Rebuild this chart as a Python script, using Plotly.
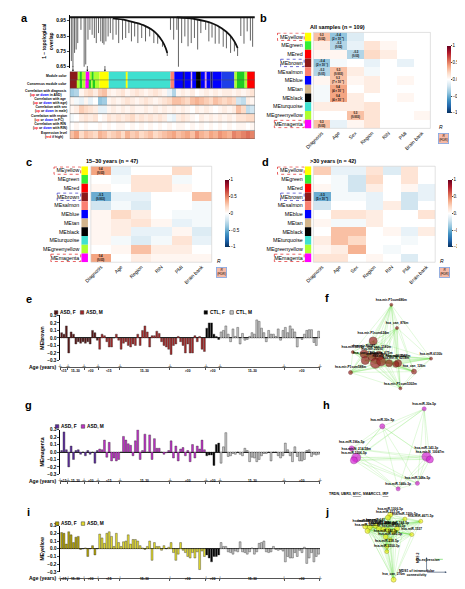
import numpy as np
import plotly.graph_objects as go

W, H = 465, 589
FONT = "Arial, Liberation Sans, sans-serif"


def px(x):
    return x / W


def py(y):
    return 1 - y / H


RDBU = [[0.0, "#053061"], [0.1, "#2166ac"], [0.2, "#4393c3"], [0.3, "#92c5de"],
        [0.4, "#d1e5f0"], [0.5, "#ffffff"], [0.6, "#fddbc7"], [0.7, "#f4a582"],
        [0.8, "#d6604d"], [0.9, "#b2182b"], [1.0, "#67001f"]]

# ---------------- a: gene dendrogram (x = gene order, y = 1 - TOM) ----------------
drop_x = [5, 10, 15, 20, 25, 35, 45, 50, 57, 63, 70, 77, 83, 90, 97, 103, 107, 113, 120, 127,
          135, 145, 153, 165, 175, 185, 193, 203, 213, 225, 237, 250, 263, 275, 290, 305,
          315, 325, 335, 340, 350, 360, 370, 380, 390, 400, 410, 425, 435, 445, 455, 467,
          480, 490, 503, 515, 525, 535, 545, 555, 565, 572]
drop_h = [0.687, 0.650, 0.740, 0.762, 0.804, 0.890, 0.650, 0.665, 0.826, 0.890, 0.858, 0.837,
          0.804, 0.869, 0.815, 0.804, 0.794, 0.815, 0.847, 0.869, 0.826, 0.858, 0.804, 0.826,
          0.837, 0.869, 0.815, 0.847, 0.804, 0.837, 0.815, 0.847, 0.804, 0.800, 0.780, 0.720,
          0.890, 0.826, 0.890, 0.650, 0.804, 0.847, 0.783, 0.804, 0.837, 0.762, 0.869, 0.890,
          0.815, 0.840, 0.800, 0.800, 0.780, 0.770, 0.740, 0.750, 0.720, 0.850, 0.800, 0.880,
          0.820, 0.780]
arc1_x = [135, 175, 205, 235, 255, 275, 290, 300, 305]
arc1_h = [0.965, 0.954, 0.937, 0.916, 0.894, 0.858, 0.815, 0.772, 0.740]
arc2_x = [335, 395, 445, 475, 500, 515, 525]
arc2_h = [0.971, 0.959, 0.933, 0.901, 0.858, 0.815, 0.772]
top_h = 0.972
n_genes = 579

mod_colors = ["#8b1a1a", "#adff2f", "#22cc22", "#adff2f", "#ff00ff", "#adff2f", "#22cc22",
              "#adff2f", "#ffff00", "#40e0d0", "#ffff00", "#40e0d0", "#fa8072", "#0000ff",
              "#191970", "#0000ff", "#dda0dd", "#0000ff", "#000000", "#0000ff", "#dda0dd",
              "#0000ff", "#191970", "#0000ff", "#1f3fe8", "#adff2f", "#22cc22", "#adff2f", "#ff0000"]
mod_widths = [25, 8, 5, 12, 12, 9, 4, 18, 29, 56, 3, 134, 12, 28, 5, 20, 3, 12, 15, 15, 3, 12, 7,
              28, 40, 8, 24, 8, 24]
cons_colors = ["#8b1a1a", "#adff2f", "#22cc22", "#adff2f", "#ff00ff", "#22cc22", "#adff2f",
               "#22cc22", "#adff2f", "#ffff00", "#40e0d0", "#ffff00", "#40e0d0", "#fa8072",
               "#0000ff", "#191970", "#0000ff", "#dda0dd", "#0000ff", "#000000", "#0000ff",
               "#dda0dd", "#0000ff", "#191970", "#0000ff", "#1f3fe8", "#adff2f", "#22cc22",
               "#adff2f", "#ff0000"]
cons_widths = [25, 6, 8, 10, 12, 6, 7, 5, 14, 29, 56, 3, 134, 12, 28, 5, 20, 3, 12, 15, 15, 3,
               12, 7, 28, 40, 8, 24, 8, 24]

cor_diag = [-0.35, -0.3, 0.05, 0.15, 0.2, 0.1, 0.25, 0.3, 0.1, 0.05, 0.1, 0.15, 0.05, 0.1, 0.15,
            0.1, 0.05, 0.1, 0.15, 0.1, 0.05, -0.1, -0.3, 0.05, 0.1, 0.05, 0.1, 0.0, 0.05, 0.1,
            0.05, 0.1, 0.05, 0.1, 0.1, 0.05, 0.1, 0.05, 0.1, 0.15]
cor_age = [0.05, -0.05, -0.1, 0.05, -0.1, 0.0, -0.4, -0.35, 0.05, 0.1, 0.05, 0.1, 0.15, 0.1,
           0.05, 0.1, 0.15, 0.1, 0.05, 0.1, 0.15, 0.2, 0.3, 0.3, 0.25, 0.2, 0.3, 0.35, 0.3, 0.25,
           0.2, 0.3, 0.25, 0.2, 0.25, 0.2, -0.2, -0.25, 0.1, 0.05]
cor_sex = [0.05, 0.1, 0.25, 0.2, 0.15, 0.1, -0.1, -0.1, 0.05, 0.1, 0.05, 0.1, 0.05, 0.1, 0.05,
           0.05, 0.1, 0.05, 0.1, 0.05, 0.1, 0.05, 0.1, 0.05, 0.1, 0.05, 0.0, 0.1, 0.05, 0.1,
           0.05, 0.0, 0.05, 0.1, 0.05, 0.1, 0.3, 0.2, -0.25, -0.2]
cor_region = [-0.05, 0.0, 0.1, 0.15, 0.1, 0.15, 0.0, 0.05, 0.15, 0.1, 0.15, 0.1, 0.15, 0.2, 0.1,
              0.15, 0.1, 0.15, 0.1, 0.15, 0.1, -0.05, -0.1, 0.1, 0.15, 0.1, 0.05, 0.0, 0.1, 0.05,
              0.1, 0.05, 0.1, 0.05, 0.1, 0.05, 0.15, 0.15, 0.2, 0.2]
cor_rin = [0.0, 0.05, 0.0, 0.05, 0.0, 0.0, 0.05, 0.0, 0.05, 0.0, 0.05, 0.05, 0.0, 0.05, 0.0,
           0.05, 0.0, 0.05, 0.0, 0.05, 0.0, 0.05, 0.0, 0.05, 0.05, 0.0, 0.05, 0.0, 0.05, 0.0,
           0.05, 0.0, 0.05, 0.0, 0.05, 0.0, 0.05, 0.05, 0.0, 0.05]
expr_level = [0.3, 0.4, 0.2, 0.3, 0.25, 0.2, 0.35, 0.3, 0.2, 0.25, 0.3, 0.2, 0.35, 0.25, 0.3,
              0.2, 0.25, 0.3, 0.2, 0.25, 0.3, 0.35, 0.4, 0.3, 0.35, 0.4, 0.3, 0.45, 0.35, 0.3,
              0.4, 0.35, 0.45, 0.4, 0.35, 0.5, 0.45, 0.5, 0.55, 0.5]

a_labels = [
    "<b>Module color</b>",
    "<b>Consensus module color</b>",
    "<b>Correlation with diagnosis<br>(<span style='color:red'>up</span> or <span style='color:blue'>down</span> in ASD)</b>",
    "<b>Correlation with age<br>(<span style='color:red'>up</span> or <span style='color:blue'>down</span> with age)</b>",
    "<b>Correlation with sex<br>(<span style='color:red'>up</span> or <span style='color:blue'>down</span> in male)</b>",
    "<b>Correlation with region<br>(<span style='color:red'>up</span> or <span style='color:blue'>down</span> in FC)</b>",
    "<b>Correlation with RIN<br>(<span style='color:red'>up</span> or <span style='color:blue'>down</span> with RIN)</b>",
    "<b>Expression level<br>(<span style='color:red'>red</span> if high)</b>",
]
arrow_genes = [10, 55, 110]

# ---------------- b, c, d: module eigengene - trait correlations ----------------
modules = ["MEyellow", "MEgreen", "MEred", "MEbrown", "MEsalmon", "MEblue", "MEtan", "MEblack",
           "MEturquoise", "MEgreenyellow", "MEmagenta"]
module_fill = ["#ffff00", "#33ee33", "#ff0000", "#8b1a1a", "#fa8072", "#0000ff", "#d2b48c",
               "#000000", "#40e0d0", "#adff2f", "#ff00ff"]
boxed = {"MEyellow": "#e02020", "MEbrown": "#3030c0", "MEmagenta": "#e02020"}

traits_b = ["Diagnosis", "Age", "Sex", "Region", "RIN", "PMI", "Brain bank"]
r_b = [[0.3, -0.4, -0.15, 0.0, 0.0, 0.0, 0.0],
       [0.1, -0.3, -0.1, 0.15, 0.05, 0.0, 0.0],
       [0.05, 0.05, -0.3, 0.2, 0.1, 0.0, 0.0],
       [-0.4, -0.05, 0.0, -0.1, 0.0, -0.1, 0.0],
       [-0.3, 0.3, 0.1, -0.05, 0.0, 0.0, 0.0],
       [0.05, 0.3, 0.05, 0.1, 0.0, 0.05, 0.0],
       [-0.05, 0.4, 0.0, 0.1, 0.0, 0.0, 0.0],
       [-0.05, 0.4, 0.1, 0.0, 0.0, 0.05, 0.0],
       [0.1, 0.1, 0.1, 0.15, 0.0, 0.0, 0.0],
       [0.0, 0.0, 0.3, 0.15, 0.0, 0.0, 0.05],
       [0.3, -0.1, 0.05, 0.15, 0.0, 0.0, 0.0]]
sig_b = [("MEyellow", "Diagnosis", "0.3<br>(0.02)"),
         ("MEyellow", "Age", "\u22120.4<br>(2 \u00d7 10<sup>\u22125</sup>)"),
         ("MEgreen", "Age", "\u22120.3<br>(0.02)"),
         ("MEred", "Sex", "\u22120.3<br>(0.03)"),
         ("MEbrown", "Diagnosis", "\u22120.4<br>(2 \u00d7 10<sup>\u22124</sup>)"),
         ("MEsalmon", "Diagnosis", "\u22120.3<br>(0.01)"),
         ("MEsalmon", "Age", "0.3<br>(0.003)"),
         ("MEblue", "Age", "0.3<br>(7 \u00d7 10<sup>\u22123</sup>)"),
         ("MEtan", "Age", "0.4<br>(4 \u00d7 10<sup>\u22124</sup>)"),
         ("MEblack", "Age", "0.4<br>(4 \u00d7 10<sup>\u22124</sup>)"),
         ("MEgreenyellow", "Sex", "0.3<br>(0.003)"),
         ("MEmagenta", "Diagnosis", "0.3<br>(0.03)")]

traits_c = ["Diagnosis", "Age", "Region", "RIN", "PMI", "Brain bank"]
r_c = [[0.4, -0.1, 0.0, 0.0, 0.2, 0.0],
       [0.0, -0.05, 0.15, 0.15, -0.05, 0.0],
       [0.05, 0.0, 0.15, 0.15, 0.05, 0.0],
       [-0.5, -0.1, -0.1, 0.0, 0.0, 0.3],
       [-0.2, -0.05, -0.15, 0.0, 0.0, -0.05],
       [0.05, 0.2, 0.1, 0.0, -0.05, -0.05],
       [0.05, 0.1, 0.15, 0.05, -0.1, -0.05],
       [0.05, 0.1, -0.1, -0.1, 0.05, -0.15],
       [0.05, -0.05, -0.15, -0.05, 0.15, -0.1],
       [0.0, 0.05, 0.3, 0.1, 0.1, 0.0],
       [0.4, 0.0, 0.1, 0.05, 0.05, 0.05]]
sig_c = [("MEyellow", "Diagnosis", "0.4<br>(0.03)"),
         ("MEbrown", "Diagnosis", "\u22120.5<br>(0.003)"),
         ("MEmagenta", "Diagnosis", "0.4<br>(0.03)")]

traits_d = ["Diagnosis", "Age", "Sex", "Region", "RIN", "PMI", "Brain bank"]
r_d = [[0.25, -0.1, -0.1, 0.15, -0.15, 0.15, 0.0],
       [0.0, -0.05, -0.2, 0.2, 0.0, 0.15, 0.0],
       [0.05, -0.05, -0.2, 0.1, 0.0, 0.05, -0.1],
       [-0.5, -0.05, -0.05, -0.1, 0.0, -0.2, -0.1],
       [-0.2, 0.0, 0.0, -0.1, 0.1, -0.2, 0.0],
       [0.0, 0.15, 0.15, 0.1, 0.0, 0.0, 0.15],
       [0.05, -0.05, -0.05, 0.1, 0.0, 0.0, 0.0],
       [0.0, 0.3, 0.3, 0.0, 0.05, -0.1, 0.1],
       [0.1, 0.3, 0.2, 0.0, 0.0, -0.05, 0.0],
       [0.05, 0.1, 0.35, 0.0, -0.05, 0.0, 0.0],
       [0.15, 0.15, 0.0, 0.05, 0.0, -0.15, 0.0]]
sig_d = [("MEbrown", "Diagnosis", "\u22120.5<br>(5 \u00d7 10<sup>\u22123</sup>)")]

# ---------------- e, g, i: eigengene values per sample ----------------
age_groups = ["<15", "15\u201330", ">30", "<15", "15\u201330", ">30", ">30", "15\u201330", ">30"]
group_sizes = [3, 7, 6, 9, 21, 15, 6, 27, 15]

brown_asd_f = [0.07, 0.05, 0.16, -0.2, 0.08, 0.05, -0.08, -0.05, -0.07, -0.05, -0.07, -0.05,
               -0.08, 0.1, 0.07, -0.03]
brown_asd_m = [-0.15, 0.05, 0.03, -0.05, -0.12, -0.12, 0.0, 0.05, -0.03,
               -0.15, -0.07, -0.05, -0.1, -0.12, -0.08, -0.1, 0.05, -0.1, 0.1, 0.16, 0.08, -0.12,
               0.03, 0.03, 0.09, 0.06, -0.05, -0.1, -0.12, -0.15,
               -0.22, -0.1, -0.08, 0.02, -0.05, -0.1, -0.2, -0.08, -0.2, -0.2, 0.03, -0.05, 0.02,
               -0.15, -0.18]
brown_ctl_f = [0.13, 0.2, 0.2, 0.05, 0.02, -0.02]
brown_ctl_m = [0.08, 0.1, 0.16, 0.05, -0.05, 0.12, 0.02, 0.14, -0.08, 0.06, -0.03, -0.02, 0.02,
               0.07, 0.05, 0.24, 0.22, 0.13, 0.07, -0.05, 0.1, 0.05, 0.05, 0.02, 0.12, -0.03, 0.1,
               0.14, 0.07, 0.16, 0.12, 0.08, -0.12, 0.0, -0.02, 0.05, 0.1, 0.11, 0.11, -0.06,
               -0.1, 0.09]

magenta_asd_f = [0.02, 0.27, 0.03, -0.2, 0.08, -0.1, 0.02, 0.03, -0.03, 0.0, -0.05, 0.02, -0.03,
                 0.0, -0.15, 0.02]
magenta_asd_m = [0.04, 0.03, 0.16, -0.07, 0.13, -0.12, -0.08, -0.12, -0.1,
                 0.0, 0.21, 0.16, 0.11, 0.09, -0.05, 0.15, 0.3, -0.1, 0.02, 0.24, 0.0, 0.23, -0.1,
                 0.18, 0.05, 0.05, 0.0, -0.03, -0.01, 0.02,
                 0.15, -0.08, 0.08, -0.12, 0.04, 0.06, -0.05, 0.02, -0.13, 0.1, -0.08, 0.08,
                 0.04, 0.16, 0.03]
magenta_ctl_f = [-0.05, -0.04, -0.04, -0.18, 0.1, 0.12]
magenta_ctl_m = [-0.15, 0.07, 0.26, -0.06, -0.05, -0.02, -0.03, 0.0, -0.03, -0.05, 0.05, 0.02,
                 -0.13, -0.07, -0.08, -0.13, -0.1, -0.05, -0.02, -0.02, 0.0, -0.12, 0.0, 0.0,
                 -0.05, -0.08, -0.05,
                 0.12, 0.03, -0.05, -0.13, 0.07, -0.06, -0.12, -0.12, -0.1, 0.02, 0.03, -0.06,
                 -0.03, -0.04, -0.03]

yellow_asd_f = [0.21, 0.2, 0.06, 0.22, 0.18, 0.08, 0.15, 0.16, -0.01, 0.0, 0.01, -0.1, 0.0,
                0.04, -0.08, 0.0]
yellow_asd_m = [0.19, 0.14, 0.07, 0.2, 0.22, 0.16, 0.03, 0.2, 0.08,
                0.03, 0.09, 0.1, 0.18, 0.06, 0.12, 0.12, 0.1, 0.04, 0.01, -0.01, 0.03, 0.1, -0.15,
                0.08, 0.03, 0.03, -0.02, 0.04, 0.0, 0.02,
                0.08, -0.05, -0.15, -0.07, 0.08, -0.02, -0.05, -0.1, -0.12, -0.05, -0.12, -0.04,
                -0.27, -0.03, -0.1]
yellow_ctl_f = [-0.08, -0.12, -0.17, -0.1, -0.1, -0.08]
yellow_ctl_m = [0.08, 0.03, 0.03, -0.04, -0.05, -0.07, -0.03, -0.04, 0.09, -0.04, -0.05, -0.07,
                -0.04, 0.01, -0.07, -0.04, 0.07, 0.08, 0.1, -0.04, -0.05, -0.04, 0.03, -0.01,
                -0.02, -0.01, -0.03,
                -0.17, -0.1, -0.12, -0.12, -0.05, -0.1, -0.02, -0.05, 0.02, -0.19, -0.12, -0.05,
                -0.17, -0.1, -0.07]

# ---------------- f, h, j: hub networks (MDS coordinates) ----------------
f_names = ["hsa-mir-P1sum686m", "hsa_can_876m", "hsa-mir-P1sum624m", "hsa-miR-6516p",
           "hsa-mir-P6087", "hsa_can_1180m", "hsa-mir-23010", "hsa_can_1202m", "hsa_can_8m",
           "hsa_can_675m", "hsa-mir-P3sum3000m", "hsa_can_1158m", "hsa-mir-N_6218m",
           "hsa-miR-6130b", "hsa_can_126m", "hsa-mir-P1sum588m", "hsa-mir-P1sum5302m"]
f_x = [0.46, 0.51, 0.30, 0.12, 0.22, 0.35, 0.29, 0.23, 0.32, 0.37, 0.44, 0.52, 0.50, 0.81, 0.66,
       0.10, 0.54]
f_y = [0.94, 0.69, 0.55, 0.43, 0.41, 0.39, 0.38, 0.34, 0.31, 0.33, 0.31, 0.31, 0.30, 0.36, 0.22,
       0.21, 0.04]
f_conn = [3, 3, 8, 3, 8, 9, 8, 8, 10, 9, 7, 7, 6, 3, 5, 4, 3]

h_names = ["hsa-miR-30a-5p", "hsa-miR-30e-5p", "hsa-miR-196a-5p", "hsa-mir-N_214-58m",
           "hsa-miR-1306-5p", "hsa-miR-143-3p", "hsa-mir-N_10047m", "hsa-miR-148a-5p",
           "hsa-miR-146b-3p"]
h_x = [0.75, 0.38, 0.11, 0.15, 0.13, 0.77, 0.80, 0.69, 0.52]
h_y = [0.95, 0.76, 0.52, 0.42, 0.39, 0.43, 0.40, 0.14, 0.08]
h_conn = [4, 5, 5, 9, 7, 9, 7, 4, 4]
h_targets = "TRDN, UBR3, <span style='text-decoration:underline'>MYC</span>, SMARCC1, <span style='text-decoration:underline'>IRF</span>"

j_names = ["hsa-miR-1306-5p", "hsa-miR-212-5p", "hsa-miR-130b-5p", "hsa-miR-4671-5p",
           "hsa-miR-5010-5p", "hsa-miR-92b-3p", "hsa-miR-641", "hsa-miR-1287", "hsa-miR-6718-5p",
           "hsa-miR-320a", "hsa-miR-885-5p", "hsa-miR-744-5p", "hsa-miR-3605-3p",
           "hsa-miR-1537", "hsa-miR-342-3p", "hsa-miR-660-5p", "hsa-miR-218-5p",
           "hsa-miR-3200-3p", "hsa_can_276m"]
j_x = [0.45, 0.43, 0.58, 0.72, 0.23, 0.27, 0.32, 0.35, 0.39, 0.43, 0.48, 0.51, 0.25, 0.64, 0.41,
       0.45, 0.42, 0.42, 0.48]
j_y = [0.93, 0.89, 0.87, 0.84, 0.77, 0.76, 0.78, 0.74, 0.73, 0.72, 0.70, 0.74, 0.71, 0.66, 0.63,
       0.59, 0.50, 0.43, 0.05]
j_conn = [5, 5, 4, 4, 5, 5, 5, 5, 5, 5, 5, 5, 5, 4, 5, 4, 4, 4, 5]

# =====================================================================
fig = go.Figure()
layout = dict(width=W, height=H, margin=dict(l=0, r=0, t=0, b=0), paper_bgcolor="white",
              plot_bgcolor="white", showlegend=False, barmode="overlay",
              font=dict(family=FONT, size=5, color="black"))
ann, shapes = [], []


def hidden(domain, rng=None, **kw):
    d = dict(domain=domain, visible=False, fixedrange=True)
    if rng is not None:
        d["range"] = rng
    d.update(kw)
    return d


# ---- a: dendrogram
dx, dy = [], []
for x, h in zip(drop_x, drop_h):
    if arc1_x[0] <= x <= arc1_x[-1]:
        t = np.interp(x, arc1_x, arc1_h)
    elif arc2_x[0] <= x <= arc2_x[-1]:
        t = np.interp(x, arc2_x, arc2_h)
    else:
        t = top_h
    dx += [x, x, None]
    dy += [t, h, None]
fig.add_trace(go.Scatter(x=dx, y=dy, mode="lines", line=dict(color="#222", width=0.7),
                         xaxis="x", yaxis="y", hoverinfo="skip"))
for ax_, ah_ in [(arc1_x, arc1_h), (arc2_x, arc2_h)]:
    fig.add_trace(go.Scatter(x=ax_, y=ah_, mode="lines", line=dict(color="#111", width=1.8,
                             shape="spline"), xaxis="x", yaxis="y", hoverinfo="skip"))
fig.add_trace(go.Scatter(x=[0, n_genes], y=[top_h, top_h], mode="lines",
                         line=dict(color="#111", width=2.2), xaxis="x", yaxis="y"))
layout["xaxis"] = hidden([px(55), px(248)], [0, n_genes])
layout["yaxis"] = dict(domain=[py(58), py(5)], range=[0.645, 0.987], anchor="x",
                       tickvals=[0.65, 0.75, 0.85, 0.95],
                       ticktext=["<b>0.65</b>", "<b>0.75</b>", "<b>0.85</b>", "<b>0.95</b>"],
                       ticks="outside", ticklen=2,
                       tickwidth=0.6, showline=True, linecolor="black", linewidth=0.6,
                       showgrid=False, zeroline=False, tickfont=dict(size=5),
                       title=dict(text="<b>1 \u2212 topological<br>overlap</b>",
                                  font=dict(size=5), standoff=2))

# ---- a: module colour bars and trait rows
for row, (cols, wids) in enumerate([(mod_colors, mod_widths), (cons_colors, cons_widths)]):
    starts = np.cumsum([0] + wids[:-1])
    fig.add_trace(go.Bar(x=wids, base=starts, y=[row] * len(wids), orientation="h", width=1,
                         marker=dict(color=cols, line=dict(width=0)), xaxis="x2", yaxis="y2",
                         hoverinfo="skip"))
n_bins = len(cor_diag)
centers = (np.arange(n_bins) + 0.5) * n_genes / n_bins
fig.add_trace(go.Heatmap(z=[cor_diag, cor_age, cor_sex, cor_region, cor_rin, expr_level],
                         x=centers, y=[2, 3, 4, 5, 6, 7], colorscale=RDBU, zmin=-1, zmax=1,
                         showscale=False, xaxis="x2", yaxis="y2", hoverinfo="skip"))
layout["xaxis2"] = hidden([px(55), px(248)], [0, n_genes], anchor="y2")
layout["yaxis2"] = hidden([py(130), py(62)], [7.5, -0.5], anchor="x2")
for k in range(1, 8):
    shapes.append(dict(type="line", xref="x2", yref="y2", x0=0, x1=n_genes, y0=k - 0.5,
                       y1=k - 0.5, line=dict(color="#555", width=0.5)))
shapes.append(dict(type="rect", xref="x2", yref="y2", x0=0, x1=n_genes, y0=-0.5, y1=7.5,
                   line=dict(color="#444", width=0.5)))
for i, lab in enumerate(a_labels):
    ann.append(dict(x=px(54), y=i, xref="paper", yref="y2", xanchor="right", yanchor="middle",
                    text=lab, showarrow=False, align="center", font=dict(size=3.3)))
for g in arrow_genes:
    ann.append(dict(x=g, y=py(62), xref="x", yref="paper", ax=0, ay=-7, showarrow=True,
                    arrowhead=2, arrowsize=0.6, arrowwidth=0.6, arrowcolor="black", text=""))


# ---- b, c, d heatmaps
def module_heatmap(n_strip, n_heat, xs, xh, ytop, ybot, traits, r, sig, ca, cb_x, ticktext,
                   title, title_x):
    sx, sy = f"x{n_strip}", f"y{n_strip}"
    hx, hy = f"x{n_heat}", f"y{n_heat}"
    fig.add_trace(go.Bar(x=[1] * len(modules), y=modules, orientation="h", width=1,
                         marker=dict(color=module_fill, line=dict(width=0)), xaxis=sx,
                         yaxis=sy, hoverinfo="skip"))
    fig.add_trace(go.Heatmap(z=r, x=traits, y=modules, coloraxis=ca, xaxis=hx, yaxis=hy,
                             hoverinfo="skip"))
    ydom = [py(ybot), py(ytop)]
    yrange = [len(modules) - 0.5, -0.5]
    layout[f"xaxis{n_strip}"] = hidden([px(xs[0]), px(xs[1])], [0, 1], anchor=sy)
    layout[f"yaxis{n_strip}"] = dict(domain=ydom, range=yrange, anchor=sx, type="category",
                                     categoryarray=modules, ticks="", showline=False,
                                     showgrid=False, tickfont=dict(size=5.3),
                                     ticklabelstandoff=1, fixedrange=True)
    layout[f"xaxis{n_heat}"] = dict(domain=[px(xh[0]), px(xh[1])], anchor=hy, tickangle=-45,
                                    ticks="", showgrid=False, showline=False,
                                    tickfont=dict(size=5), fixedrange=True)
    layout[f"yaxis{n_heat}"] = dict(domain=ydom, range=yrange, anchor=hx, type="category",
                                    categoryarray=modules, showticklabels=False, ticks="",
                                    showgrid=False, fixedrange=True)
    shapes.append(dict(type="rect", xref=f"{hx} domain", yref=f"{hy} domain", x0=0, x1=1,
                       y0=0, y1=1, line=dict(color="#cccccc", width=0.6)))
    for name, col in boxed.items():
        i = modules.index(name)
        shapes.append(dict(type="rect", xref="paper", yref=sy,
                           x0=px(xs[0] - 2 - 3.3 * len(name)), x1=px(xs[0] - 0.6),
                           y0=i - 0.42, y1=i + 0.42,
                           line=dict(color=col, width=0.7, dash="dot")))
    for m, t, txt in sig:
        ann.append(dict(x=t, y=m, xref=hx, yref=hy, text=f"<b>{txt}</b>", showarrow=False,
                        font=dict(size=2.8)))
    layout[ca] = dict(colorscale=RDBU, cmin=-1, cmax=1,
                      colorbar=dict(x=px(cb_x), xanchor="left", thickness=4,
                                    len=(ybot - ytop - 9) / H, lenmode="fraction",
                                    y=py((ytop + ybot) / 2 - 1), yanchor="middle",
                                    tickvals=[1, 0.5, 0, -0.5, -1], ticktext=ticktext,
                                    tickfont=dict(size=4.5), ticks="outside", ticklen=1,
                                    outlinewidth=0))
    ann.append(dict(x=px(cb_x), y=py(ybot - 1), xref="paper", yref="paper", xanchor="left",
                    yanchor="middle", text="<i>R</i>", showarrow=False, font=dict(size=5)))
    ann.append(dict(x=px(cb_x + 1), y=py(ybot + 10), xref="paper", yref="paper",
                    xanchor="left", yanchor="middle", text="<i>R</i><br>(FDR)",
                    showarrow=False, font=dict(size=3.2), bgcolor="#f6b9a5",
                    bordercolor="#7fa6e6", borderwidth=0.8, borderpad=0.5))
    ann.append(dict(x=px(title_x), y=py(ytop - 5), xref="paper", yref="paper", xanchor="left",
                    yanchor="middle", text=f"<b>{title}</b>", showarrow=False,
                    font=dict(size=5.5)))


module_heatmap(3, 4, (300, 307), (309, 431), 22.6, 119.4, traits_b, r_b, sig_b, "coloraxis",
               438, ["1", "0.5", "0.0", "\u22120.5", "\u22121"], "All samples (n = 109)", 303)
module_heatmap(5, 6, (67, 74), (77, 203), 157.6, 254.4, traits_c, r_c, sig_c, "coloraxis2",
               206, ["1", "0.5", "0", "\u22120.5", "\u22121"], "15\u201330 years (n = 47)", 70)
module_heatmap(7, 8, (300, 307), (309, 436), 157.6, 254.4, traits_d, r_d, sig_d, "coloraxis3",
               439, ["1", "0.5", "0.0", "\u22120.5", "\u22121"], ">30 years (n = 42)", 303)


# ---- e, g, i eigengene bar plots
def me_bars(n, ytop, ybot, series, colors, ytitle, legend_items):
    xa, ya = f"x{n}", f"y{n}"
    pos = 0
    for vals, col in zip(series, colors):
        idx = list(range(pos, pos + len(vals)))
        pos += len(vals)
        fig.add_trace(go.Bar(x=idx, y=vals, width=0.8, marker=dict(color=col,
                             line=dict(color="#333", width=0.4)), xaxis=xa, yaxis=ya,
                             hoverinfo="skip"))
    bounds = np.cumsum([0] + group_sizes) - 0.5
    line_y = ybot + 6.5
    layout[f"xaxis{n}"] = dict(domain=[px(45), px(316)], range=[-0.6, pos - 0.4], anchor="free",
                               position=py(line_y), showline=True, linecolor="#555",
                               linewidth=0.5, tickvals=bounds, ticks="outside", ticklen=2,
                               tickwidth=0.6, tickcolor="#555", showticklabels=False,
                               showgrid=False, zeroline=False, fixedrange=True)
    ytv = [0.3, 0.2, 0.1, 0, -0.1, -0.2, -0.3]
    layout[f"yaxis{n}"] = dict(domain=[py(ybot), py(ytop)], range=[-0.3, 0.3], anchor=xa,
                               tickvals=ytv,
                               ticktext=[f"<b>{v:.1f}</b>".replace("-", "\u2212") for v in ytv],
                               ticks="outside", ticklen=2, tickwidth=0.6, showline=True,
                               linecolor="black", linewidth=0.6, showgrid=False,
                               zeroline=True, zerolinecolor="#222", zerolinewidth=0.5,
                               tickfont=dict(size=4.6), fixedrange=True,
                               title=dict(text=f"<b>{ytitle}</b>", font=dict(size=5.2),
                                          standoff=2))
    for b in bounds:
        ann.append(dict(x=b, y=py(line_y), xref=xa, yref="paper", text="+", showarrow=False,
                        font=dict(size=7, color="#666"), yanchor="middle"))
    for k, lab in enumerate(age_groups):
        ann.append(dict(x=(bounds[k] + bounds[k + 1]) / 2, y=py(line_y + 4.5), xref=xa,
                        yref="paper", text=f"<b>{lab}</b>", showarrow=False,
                        font=dict(size=3.2)))
    ann.append(dict(x=px(44), y=py(line_y), xref="paper", yref="paper", xanchor="right",
                    yanchor="middle", text="<b>Age (years)</b>", showarrow=False,
                    font=dict(size=5)))
    for lx, ly, col, txt in legend_items:
        shapes.append(dict(type="rect", xref="paper", yref="paper", x0=px(lx), x1=px(lx + 3.6),
                           y0=py(ly + 1.8), y1=py(ly - 1.8), fillcolor=col,
                           line=dict(color="#333", width=0.5)))
        ann.append(dict(x=px(lx + 4.2), y=py(ly), xref="paper", yref="paper", xanchor="left",
                        yanchor="middle", text=f"<b>{txt}</b>", showarrow=False,
                        font=dict(size=4.8)))


me_bars(9, 308, 353.5, [brown_asd_f, brown_asd_m, brown_ctl_f, brown_ctl_m],
        ["#5a1616", "#a32828", "#000000", "#c8c8c8"], "MEbrown",
        [(39, 305, "#5a1616", "ASD, F"), (66, 305, "#a32828", "ASD, M"),
         (195, 305, "#000000", "CTL, F"), (222, 305, "#c8c8c8", "CTL, M")])
me_bars(10, 423.3, 468.3, [magenta_asd_f, magenta_asd_m, magenta_ctl_f, magenta_ctl_m],
        ["#5b2a9c", "#c030c8", "#000000", "#c8c8c8"], "MEmagenta",
        [(40, 420, "#5b2a9c", "ASD, F"), (67, 420, "#c030c8", "ASD, M")])
me_bars(11, 520, 566.7, [yellow_asd_f, yellow_asd_m, yellow_ctl_f, yellow_ctl_m],
        ["#b5a400", "#e6de2e", "#000000", "#c8c8c8"], "MEyellow",
        [(40, 518, "#b5a400", "ASD, F"), (67, 518, "#e6de2e", "ASD, M")])


# ---- f, h, j networks
def network(n, box, names, xs, ys, conn, fill, edge):
    xa, ya = f"x{n}", f"y{n}"
    ex, ey = [], []
    for i in range(len(names)):
        for j in range(i + 1, len(names)):
            ex += [xs[i], xs[j], None]
            ey += [ys[i], ys[j], None]
    fig.add_trace(go.Scatter(x=ex, y=ey, mode="lines", line=dict(color="rgba(110,225,80,0.45)",
                             width=0.45), xaxis=xa, yaxis=ya, hoverinfo="skip"))
    fig.add_trace(go.Scatter(x=xs, y=ys, mode="markers+text", text=[f"<b>{t}</b>" for t in names],
                             textposition="top center", textfont=dict(size=3.2),
                             marker=dict(size=conn, color=fill, line=dict(color=edge, width=0.6)),
                             xaxis=xa, yaxis=ya, hoverinfo="skip", cliponaxis=False))
    layout[f"xaxis{n}"] = hidden([px(box[0]), px(box[1])], [-0.05, 1.05], anchor=ya)
    layout[f"yaxis{n}"] = hidden([py(box[3]), py(box[2])], [-0.05, 1.05], anchor=xa)


network(12, (330, 460, 287, 390), f_names, f_x, f_y, f_conn, "#9b2525", "#5a1010")
network(13, (330, 460, 393, 495), h_names, h_x, h_y, h_conn, "#d624d6", "#8a108a")
network(14, (330, 460, 500, 582), j_names, j_x, j_y, j_conn, "#f2f020", "#8a8a00")

ann.append(dict(x=px(390), y=py(492), xref="paper", yref="paper", text=f"<b>{h_targets}</b>",
                showarrow=False, font=dict(size=3.6)))
shapes.append(dict(type="line", xref="paper", yref="paper", x0=px(436), x1=px(444), y0=py(554),
                   y1=py(554), line=dict(color="#7ee070", width=0.8)))
ann.append(dict(x=px(443), y=py(559), xref="paper", yref="paper", text="<b>Co-expression</b>",
                showarrow=False, font=dict(size=3.4)))
ann.append(dict(x=px(427), y=py(552), xref="paper", yref="paper", ax=0, ay=15, text="",
                showarrow=True, arrowhead=2, arrowsize=0.6, arrowwidth=0.6))
ann.append(dict(x=px(448), y=py(567), xref="paper", yref="paper", ax=-21, ay=0, text="",
                showarrow=True, arrowhead=2, arrowsize=0.6, arrowwidth=0.6))
ann.append(dict(x=px(423), y=py(560), xref="paper", yref="paper", text="<b>MDS 2</b>",
                textangle=-90, showarrow=False, font=dict(size=3.4)))
ann.append(dict(x=px(438), y=py(574), xref="paper", yref="paper",
                text="<b>MDS1 of intramodular<br>connectivity</b>", showarrow=False,
                font=dict(size=3.4)))

# ---- panel letters
for letter, lx, ly in [("a", 8, 8), ("b", 257, 8), ("c", 12, 153), ("d", 259, 153),
                       ("e", 12, 291), ("f", 323, 290), ("g", 12, 398), ("h", 323, 398),
                       ("i", 12, 506), ("j", 323, 506)]:
    ann.append(dict(x=px(lx), y=py(ly), xref="paper", yref="paper", text=f"<b>{letter}</b>",
                    showarrow=False, xanchor="center", yanchor="middle",
                    font=dict(size=11, family=FONT)))

layout["annotations"] = ann
layout["shapes"] = shapes
fig.update_layout(**layout)
fig.write_html("out.html")
